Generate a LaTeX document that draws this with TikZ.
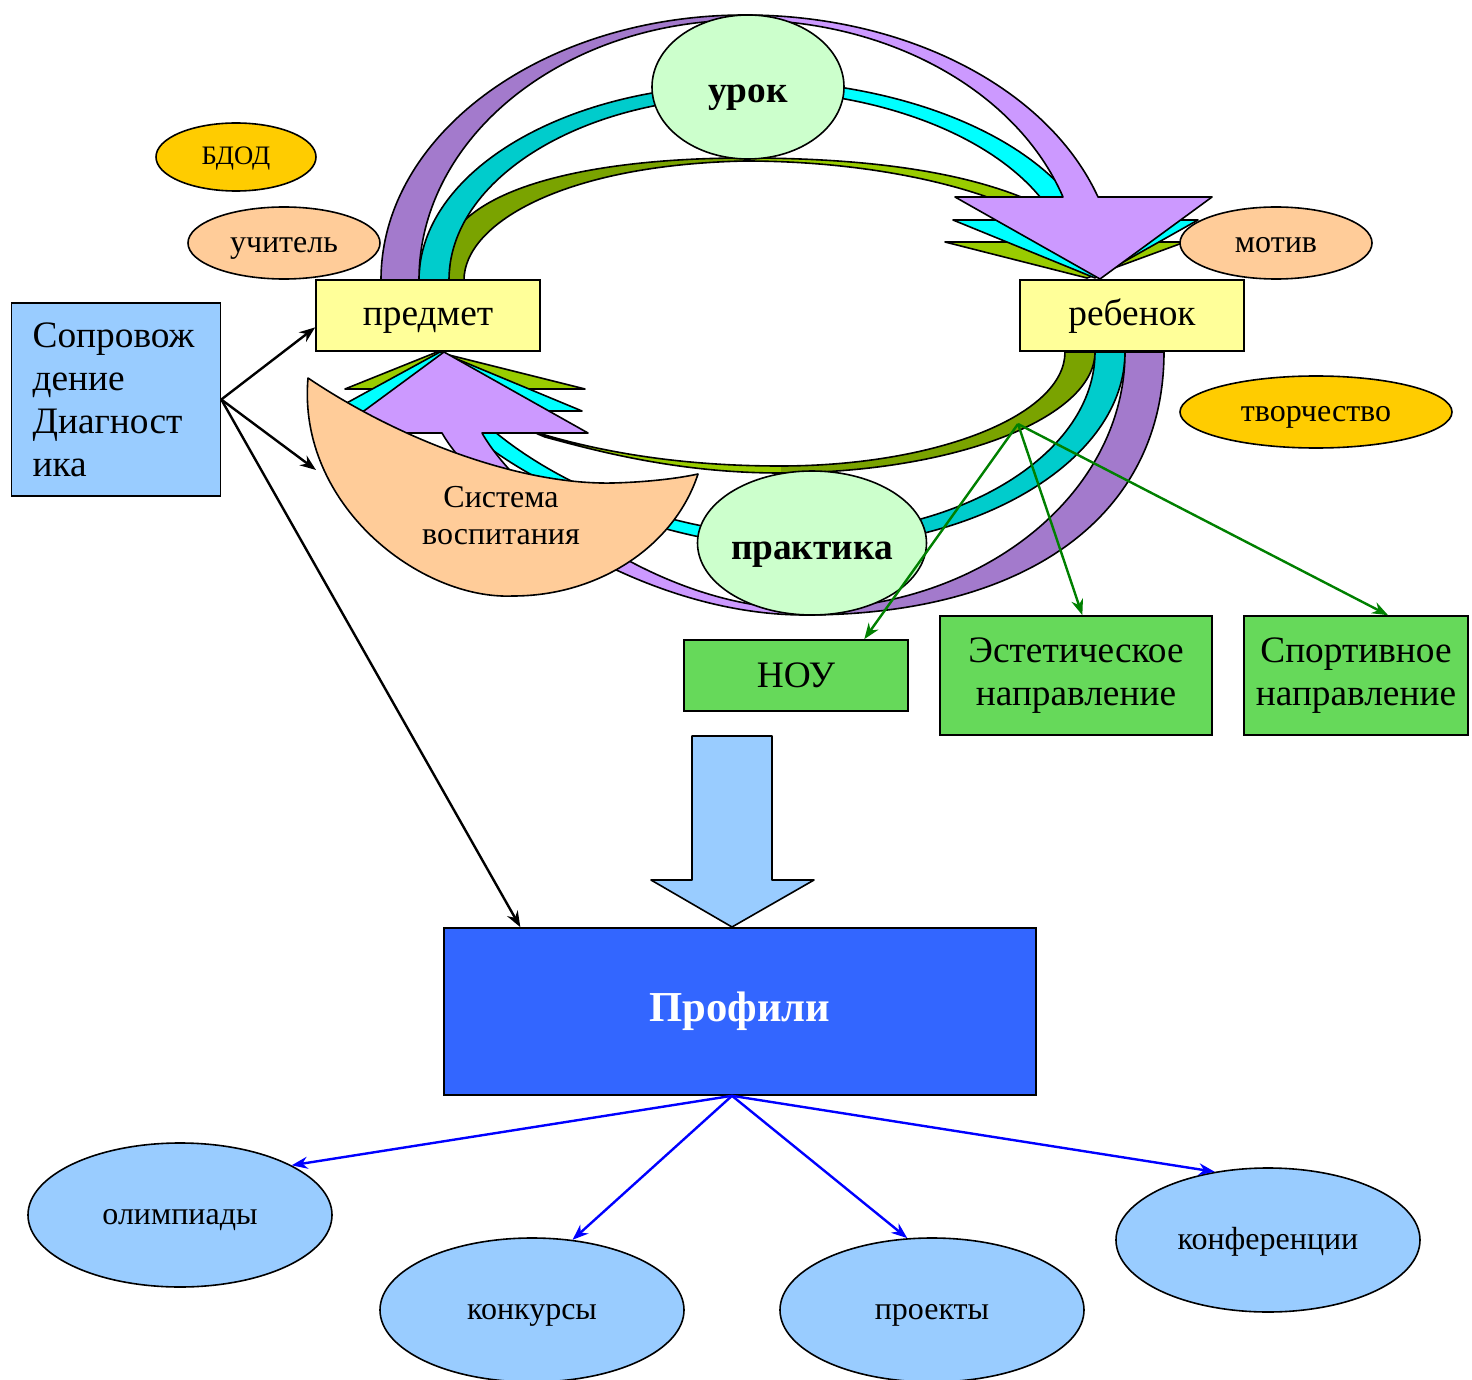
\documentclass[tikz,border=0pt]{standalone}
\usepackage{fontspec}
\setmainfont{Liberation Serif}
\usetikzlibrary{shapes.geometric,arrows.meta}
\definecolor{lilacD}{RGB}{163,122,204}
\definecolor{lilacL}{RGB}{204,153,255}
\definecolor{aquaD}{RGB}{0,204,204}
\definecolor{aquaL}{RGB}{0,255,255}
\definecolor{oliveD}{RGB}{122,163,0}
\definecolor{oliveL}{RGB}{153,204,0}
\definecolor{paleyellow}{RGB}{255,255,153}
\definecolor{palegreen}{RGB}{204,255,204}
\definecolor{amber}{RGB}{255,204,0}
\definecolor{peach}{RGB}{255,204,153}
\definecolor{skyblue}{RGB}{153,204,255}
\definecolor{grassgreen}{RGB}{102,217,90}
\definecolor{royal}{RGB}{51,102,255}
\definecolor{arrowgreen}{RGB}{0,128,0}
\begin{document}
\begin{tikzpicture}[x=0.75pt,y=0.75pt,yscale=-1,xscale=1,
  band/.style={draw,line width=1.2pt,line join=round},
  ybox/.style={draw,line width=1.2pt,fill=paleyellow,minimum width=168pt,minimum height=53.25pt,inner sep=0pt,text height=20pt,text depth=5pt,font=\fontsize{28}{32}\selectfont},
  gbox/.style={draw,line width=1.2pt,fill=grassgreen,inner sep=0pt,align=center,font=\fontsize{28}{32}\selectfont},
  sbox/.style={draw,line width=1.2pt,fill=skyblue,minimum width=156.75pt,minimum height=144.75pt,text width=125pt,align=left,inner sep=0pt,font=\fontsize{28}{32.25}\selectfont},
  oval/.style={draw,line width=1.2pt,ellipse,inner sep=0pt},
  core/.style={oval,fill=palegreen,minimum height=108pt,text height=30pt,text depth=6pt,font=\bfseries\fontsize{28}{32}\selectfont},
  tag/.style={oval,minimum height=54pt,text height=18pt,text depth=4pt,font=\fontsize{24}{28}\selectfont},
  form/.style={oval,fill=skyblue,minimum width=228pt,minimum height=108pt,text height=18pt,text depth=4pt,font=\fontsize{24}{28}\selectfont},
  blackarrow/.style={line width=1.8pt,-{Stealth[length=12pt,width=9pt]}},
  greenarrow/.style={blackarrow,draw=arrowgreen},
  bluearrow/.style={blackarrow,draw=blue}]
\useasboundingbox (0,0) rectangle (1472,1380);
\draw[band,fill=oliveD] (449,280) .. controls (449,255) and (453,238) .. (463,222) .. controls (510,175) and (630,158) .. (745,158) -- (745,161) .. controls (560,165) and (464,225) .. (464,280) -- cycle;
\draw[band,fill=oliveL] (745,158) .. controls (900,158) and (1030,180) .. (1095,242) -- (1185,242) -- (1087,278) -- (945,242) -- (1070,242) .. controls (1020,195) and (890,161) .. (745,161) -- cycle;
\draw[band,fill=aquaD] (419,280) .. controls (419,172) and (565,85) .. (745,85) -- (745,97) .. controls (582,97) and (449,179) .. (449,280) -- cycle;
\draw[band,fill=aquaL] (745,80) .. controls (901,80) and (1040,137) .. (1086,220) -- (1198,220) -- (1095,278) -- (953,220) -- (1056,220) .. controls (1012,142) and (886,90) .. (745,90) -- cycle;
\draw[band,fill=lilacD] (381,280) .. controls (381,134) and (544,15) .. (745,15) -- (745,20) .. controls (565,20) and (419,136) .. (419,280) -- cycle;
\draw[band,fill=lilacL] (745,15) .. controls (906,15) and (1048,88) .. (1098,197) -- (1212,197) -- (1100,279) -- (955,197) -- (1063,197) .. controls (1017,91) and (889,20) .. (745,20) -- cycle;
\draw[band,fill=oliveD] (1095,352) .. controls (1095,418) and (954,473) .. (780,473) -- (780,466) .. controls (937,466) and (1065,415) .. (1065,352) -- cycle;
\draw[band,fill=oliveL] (780,473) .. controls (680,473) and (600,452) .. (545,437) .. controls (515,425) and (495,410) .. (490,389) -- (345,389) -- (437,352) -- (585,389) -- (500,389) .. controls (505,410) and (515,425) .. (535,432) .. controls (600,452) and (680,466) .. (780,466) -- cycle;
\draw[oliveL,line width=2pt] (780,467.3) -- (780,471.7);
\draw[band,fill=aquaD] (1125,352) .. controls (1125,460) and (979,548) .. (800,548) -- (800,535) .. controls (963,535) and (1095,453) .. (1095,352) -- cycle;
\draw[band,fill=aquaL] (800,548) .. controls (660,548) and (500,475) .. (450,411) -- (332,411) -- (440,352) -- (582,411) -- (472,411) .. controls (540,480) and (670,537) .. (800,535) -- cycle;
\draw[band,fill=lilacD] (1164,352) .. controls (1164,515) and (1028,615) .. (805,615) -- (805,609) .. controls (982,609) and (1125,494) .. (1125,352) -- cycle;
\draw[band,fill=lilacL] (805,615) .. controls (640,615) and (480,500) .. (442,433) -- (334,433) -- (444,352) -- (588,433) -- (482,433) .. controls (520,500) and (660,609) .. (805,609) -- cycle;
\draw[band,fill=peach] (308,378) .. controls (297,505) and (420,600) .. (513,596) .. controls (600,596) and (675,545) .. (698,474) .. controls (680,478) and (650,482) .. (613,483) .. controls (520,485) and (400,440) .. (308,378) -- cycle;
\node[font=\fontsize{24}{27.75}\selectfont,align=center,inner sep=0pt] (upbringing) at (501,516) {Система\\воспитания};
\node[tag,fill=amber,minimum width=120pt,minimum height=51pt,text height=16pt,font=\fontsize{20}{24}\selectfont] (bdod) at (236,157) {БДОД};
\node[tag,fill=peach,minimum width=144pt] (teacher) at (284,243) {учитель};
\node[tag,fill=peach,minimum width=144pt] (motive) at (1276,243) {мотив};
\node[tag,fill=amber,minimum width=204pt] (creativity) at (1316,412) {творчество};
\node[ybox] (subject) at (428,315.5) {предмет};
\node[ybox] (child) at (1132,315.5) {ребенок};
\node[core,minimum width=144pt] (lesson) at (748,87) {урок};
\node[core,minimum width=168pt] (practice) at (812,543) {практика};
\node[sbox] (support) at (116,399.5) {Сопровож\\дение\\Диагност\\ика};
\node[gbox,minimum width=168pt,minimum height=53.25pt] (nou) at (796,675.5) {НОУ};
\node[gbox,minimum width=204pt,minimum height=89.25pt] (aesthetic) at (1076,675.5) {Эстетическое\\направление};
\node[gbox,minimum width=168pt,minimum height=89.25pt] (sport) at (1356,675.5) {Спортивное\\направление};
\draw[band,fill=skyblue] (692,736) -- (772,736) -- (772,880) -- (814,880) -- (732,927) -- (651,880) -- (692,880) -- cycle;
\node[draw,line width=1.2pt,fill=royal,minimum width=444pt,minimum height=125.25pt,text=white,font=\bfseries\fontsize{32}{36}\selectfont] (profiles) at (740,1011.5) {Профили};
\node[form] (olymp) at (180,1215) {олимпиады};
\node[form] (contests) at (532,1310) {конкурсы};
\node[form] (projects) at (932,1310) {проекты};
\node[form] (confs) at (1268,1240) {конференции};
\coordinate (hub) at (1018,424);
\coordinate (sysedge) at (316,470);
\draw[blackarrow] (support.east) -- (subject.186);
\draw[blackarrow] (support.east) -- (sysedge);
\draw[blackarrow] (support.east) -- (profiles.159);
\draw[greenarrow] (hub) -- (nou.28);
\draw[greenarrow] (hub) -- (aesthetic.84);
\draw[greenarrow] (hub) -- (sport.62);
\draw[bluearrow] ([xshift=-6pt]profiles.south) -- (olymp.24);
\draw[bluearrow] ([xshift=-6pt]profiles.south) -- (contests.60);
\draw[bluearrow] ([xshift=-6pt]profiles.south) -- (projects.109);
\draw[bluearrow] ([xshift=-6pt]profiles.south) -- (confs.128);
\end{tikzpicture}
\end{document}
